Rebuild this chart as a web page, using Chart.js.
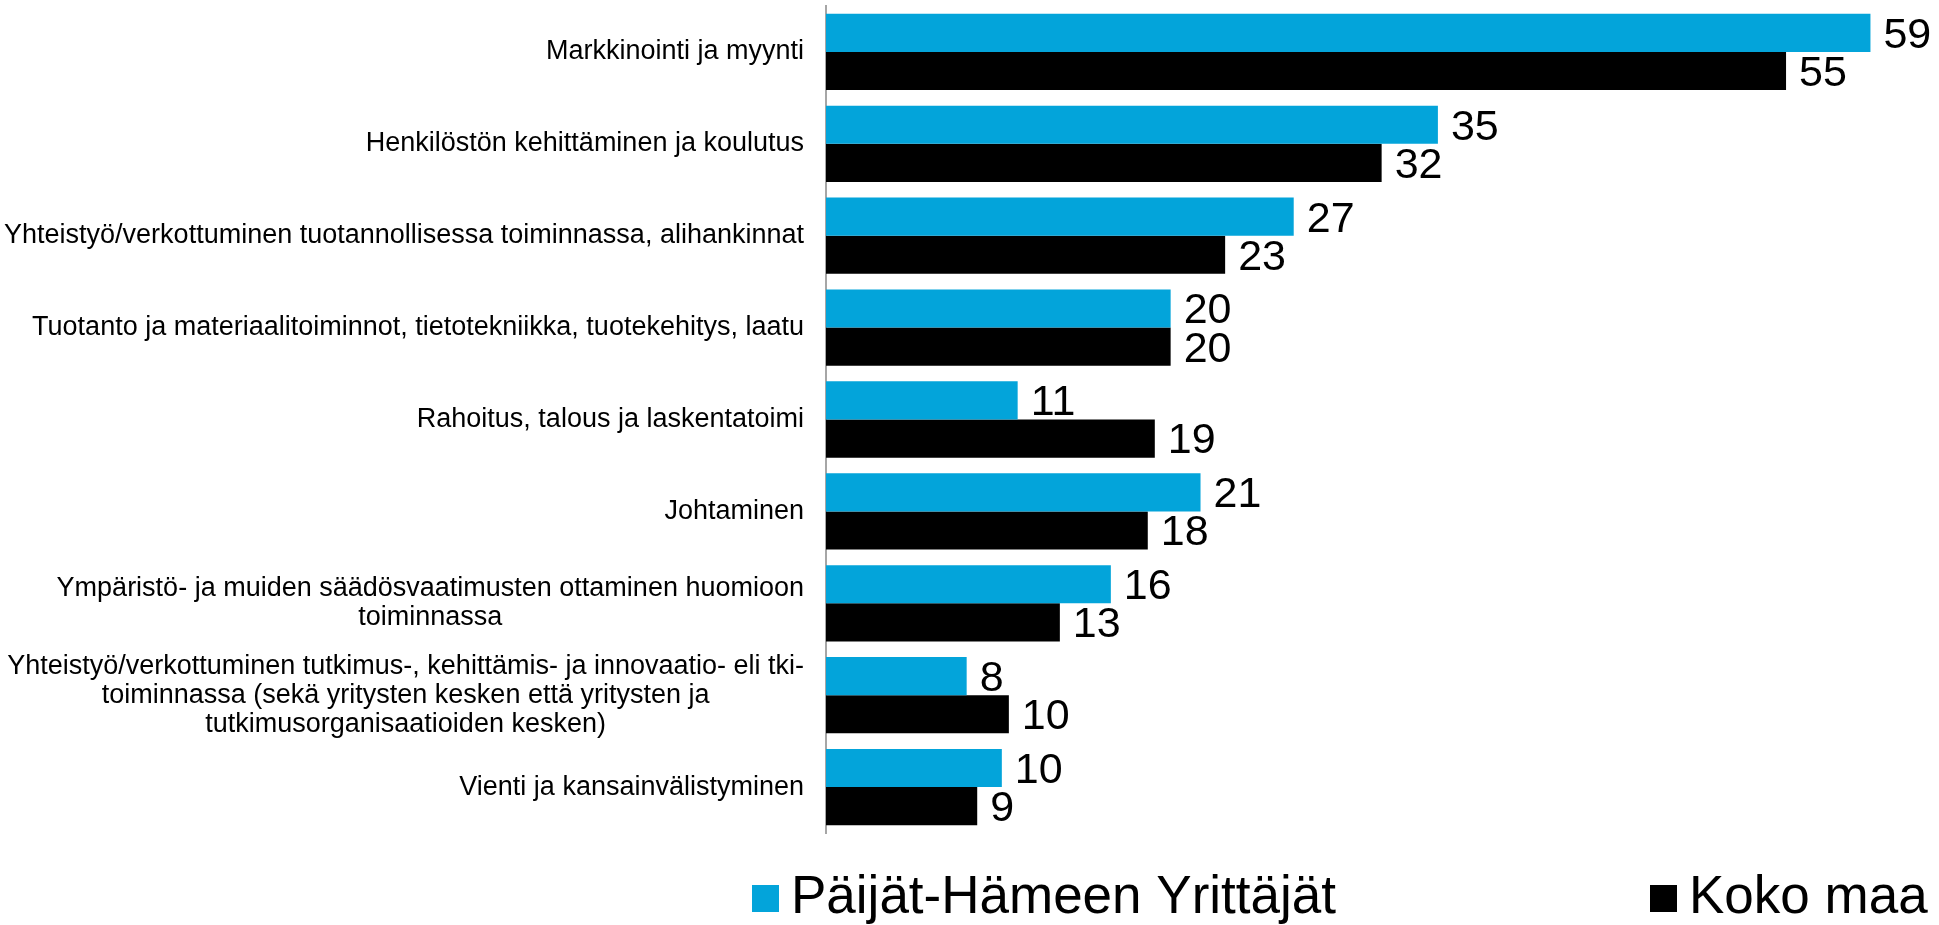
<!DOCTYPE html>
<html>
<head>
<meta charset="utf-8">
<script src="https://cdn.jsdelivr.net/npm/chart.js@4.4.1/dist/chart.umd.min.js"></script>
<style>
  html, body { margin: 0; padding: 0; background: #fff; }
</style>
</head>
<body>
<canvas id="chart" width="1939" height="925"></canvas>
<script>
// kategoriat (monirivinen teksti taulukkona)
const categories = [
    ['Markkinointi ja myynti'],
    ['Henkilöstön kehittäminen ja koulutus'],
    ['Yhteistyö/verkottuminen tuotannollisessa toiminnassa, alihankinnat'],
    ['Tuotanto ja materiaalitoiminnot, tietotekniikka, tuotekehitys, laatu'],
    ['Rahoitus, talous ja laskentatoimi'],
    ['Johtaminen'],
    ['Ympäristö- ja muiden säädösvaatimusten ottaminen huomioon', 'toiminnassa'],
    ['Yhteistyö/verkottuminen tutkimus-, kehittämis- ja innovaatio- eli tki-',
     'toiminnassa (sekä yritysten kesken että yritysten ja',
     'tutkimusorganisaatioiden kesken)'],
    ['Vienti ja kansainvälistyminen']
];
const seriesNames = ['Päijät-Hämeen Yrittäjät', 'Koko maa'];
const paijatHame = [59.4, 34.8, 26.6, 19.6, 10.9, 21.3, 16.2, 8.0, 10.0];
const kokoMaa = [54.6, 31.6, 22.7, 19.6, 18.7, 18.3, 13.3, 10.4, 8.6];

const FONT = "'Liberation Sans', Arial, sans-serif";
const BLUE = '#03a4da';
const BLACK = '#000000';

// kategorian nimet akselin vasemmalle puolelle, rivit keskitettyinä
const categoryLabels = {
    id: 'categoryLabels',
    afterDraw(chart) {
        const ctx = chart.ctx;
        const yScale = chart.scales.y;
        const right = chart.chartArea.left - 22;
        const lineH = 29;
        ctx.save();
        ctx.font = '27px ' + FONT;
        ctx.fillStyle = '#000';
        ctx.textAlign = 'center';
        ctx.textBaseline = 'middle';
        categories.forEach((lines, i) => {
            const y = yScale.getPixelForTick(i);
            const w = Math.max(...lines.map(l => ctx.measureText(l).width));
            const cx = right - w / 2;
            lines.forEach((line, j) => {
                ctx.fillText(line, cx, y + (j - (lines.length - 1) / 2) * lineH);
            });
        });
        ctx.restore();
    }
};

// arvot palkkien päähän
const valueLabels = {
    id: 'valueLabels',
    afterDatasetsDraw(chart) {
        const ctx = chart.ctx;
        ctx.save();
        ctx.font = '43px ' + FONT;
        ctx.fillStyle = '#000';
        ctx.textAlign = 'left';
        ctx.textBaseline = 'middle';
        chart.data.datasets.forEach((ds, di) => {
            chart.getDatasetMeta(di).data.forEach((bar, i) => {
                ctx.fillText(Math.round(ds.data[i]), bar.x + 13, bar.y + 3);
            });
        });
        ctx.restore();
    }
};

// selite alareunaan
const bottomLegend = {
    id: 'bottomLegend',
    afterDraw(chart) {
        const ctx = chart.ctx;
        const items = [{ x: 752 }, { x: 1650 }];
        ctx.save();
        ctx.font = '53px ' + FONT;
        ctx.textBaseline = 'alphabetic';
        ctx.textAlign = 'left';
        chart.data.datasets.forEach((ds, di) => {
            const x = items[di].x;
            ctx.fillStyle = ds.backgroundColor;
            ctx.fillRect(x, 885, 27, 27);
            ctx.fillStyle = '#000';
            ctx.fillText(ds.label, x + 39, 913);
        });
        ctx.restore();
    }
};

new Chart(document.getElementById('chart'), {
    type: 'bar',
    data: {
        labels: categories,
        datasets: [{
            label: seriesNames[0],
            data: paijatHame,
            backgroundColor: BLUE
        }, {
            label: seriesNames[1],
            data: kokoMaa,
            backgroundColor: BLACK
        }]
    },
    options: {
        indexAxis: 'y',
        responsive: false,
        animation: false,
        devicePixelRatio: 1,
        layout: {
            padding: { left: 818, right: 58, top: 6, bottom: 92 }
        },
        datasets: {
            bar: {
                categoryPercentage: 0.83,
                barPercentage: 1
            }
        },
        plugins: {
            legend: { display: false },
            tooltip: { enabled: false }
        },
        scales: {
            x: {
                display: false,
                min: 0,
                max: 60
            },
            y: {
                grid: { display: false },
                ticks: { display: false },
                border: { display: true, color: '#a6a6a6', width: 2 }
            }
        }
    },
    plugins: [categoryLabels, valueLabels, bottomLegend]
});
</script>
</body>
</html>
